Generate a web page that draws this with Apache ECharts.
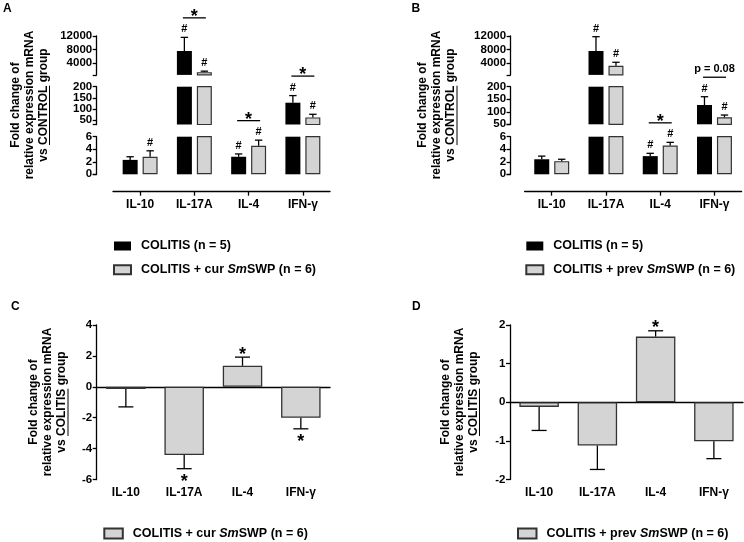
<!DOCTYPE html>
<html><head><meta charset="utf-8">
<script src="https://cdn.jsdelivr.net/npm/echarts@6.0.0/dist/echarts.min.js"></script>
<style>html,body{margin:0;padding:0;background:#fff}#c{width:744px;height:542px}</style>
</head><body><div id="c"></div>
<script>
// ---------- data ----------
const categories = ['IL-10', 'IL-17A', 'IL-4', 'IFN-γ'];
const nColitis = 'COLITIS (n = 5)';
const nCur = 'COLITIS + cur SmSWP (n = 6)';
const nPrev = 'COLITIS + prev SmSWP (n = 6)';

// Panel A (fold change vs CONTROL)
const aColitis = [2.3, 7600, 2.8, 128];
const aColitisErr = [2.8, 11600, 3.25, 160];
const aCur = [2.8, 1400, 4.55, 62];
const aCurErr = [3.75, 1700, 5.45, 76];
const aHashColitis = ['', '#', '#', '#'];
const aHashCur = ['#', '#', '#', '#'];
const aPair = ['', '*', '*', '*'];

// Panel B (fold change vs CONTROL)
const bColitis = [2.4, 7600, 2.9, 127];
const bColitisErr = [2.9, 11800, 3.35, 160];
const bPrev = [2.1, 3300, 4.6, 78];
const bPrevErr = [2.4, 4300, 5.1, 87];
const bHashColitis = ['', '#', '#', '#'];
const bHashPrev = ['', '#', '#', '#'];
const bPair = ['', '', '*', 'p = 0.08'];

// Panel C (fold change vs COLITIS)
const cCur = [-0.15, -4.42, 1.36, -2.0];
const cCurErr = [-1.3, -5.3, 1.92, -2.72];
const cStar = ['', '*', '*', '*'];

// Panel D (fold change vs COLITIS)
const dPrev = [-0.12, -1.12, 1.7, -1.01];
const dPrevErr = [-0.73, -1.74, 1.85, -1.46];
const dStar = ['', '', '*', ''];

// broken axis segments (top, middle, bottom) and tick labels
const aRanges = [[600, 12000], [30, 200], [0, 6]];
const bRanges = [[600, 12000], [50, 200], [0, 6]];
const segTicks = [[12000, 8000, 4000], [200, 150, 100, 50], [6, 4, 2, 0]];
const cTicks = [4, 2, 0, -2, -4, -6];
const dTicks = [2, 1, 0, -1, -2];

// ---------- styling ----------
const FONT = '"Liberation Sans", Arial, Helvetica, sans-serif';
const GRAY = '#d4d4d4';
const EDGE = '#333333';
const LW = 1.3;

const grids = [], xAxes = [], yAxes = [], series = [];

function seg(x1, y1, x2, y2) {
  return { type: 'line', shape: { x1, y1, x2, y2 }, style: { stroke: '#000', lineWidth: LW } };
}
function txt(t, x, y, size) {
  return { type: 'text', x, y, style: { text: t, font: 'bold ' + size + 'px ' + FONT, fill: '#000', align: 'center', verticalAlign: 'middle' } };
}
function star(x, yc) {
  return { type: 'text', x, y: yc + 5, style: { text: '*', font: 'bold 18px ' + FONT, fill: '#000', align: 'center', verticalAlign: 'middle' } };
}

function yAxisBase(g, min, max, offset) {
  return {
    type: 'value', gridIndex: g, min, max, offset, position: 'left',
    axisLine: { show: true, onZero: false, lineStyle: { color: '#000', width: LW } },
    axisTick: { show: true, length: 4, lineStyle: { color: '#000', width: LW } },
    axisLabel: { show: true, margin: 4.5, color: '#000', fontFamily: FONT, fontWeight: 'bold', fontSize: 11.5,
      showMinLabel: true, showMaxLabel: true, hideOverlap: false, formatter: v => String(v) },
    splitLine: { show: false }
  };
}
const xLabel = { show: true, margin: 7, color: '#000', fontFamily: FONT, fontWeight: 'bold', fontSize: 12, interval: 0, hideOverlap: false };

function broken(cfg) {
  cfg.ranges.forEach((r, s) => {
    const g = grids.length;
    const xi = xAxes.length, yi = yAxes.length;
    const isBottom = s === cfg.ranges.length - 1;
    const isTop = s === 0;
    grids.push({ left: cfg.left, width: cfg.width, top: cfg.tops[s], height: cfg.heights[s], containLabel: false, outerBoundsMode: 'none' });
    xAxes.push({
      type: 'category', gridIndex: g, data: categories, show: isBottom, position: 'bottom', offset: isBottom ? cfg.xOffset : 0,
      axisLine: { show: true, onZero: false, lineStyle: { color: '#000', width: LW } },
      axisTick: { show: true, alignWithLabel: true, length: 4, lineStyle: { color: '#000', width: LW } },
      axisLabel: xLabel, splitLine: { show: false }
    });
    // main axis: line, ticks and every other label; companion axis: remaining labels (tight spacing)
    const ya = yAxisBase(g, r[0], r[1], cfg.axisOffset);
    ya.axisTick.customValues = segTicks[s].concat([r[0]]);
    ya.axisLabel.customValues = segTicks[s].filter((v, k) => k % 2 === 0);
    yAxes.push(ya);
    const ya2 = yAxisBase(g, r[0], r[1], cfg.axisOffset);
    ya2.axisLine.show = false;
    ya2.axisTick.show = false;
    ya2.axisLabel.customValues = segTicks[s].filter((v, k) => k % 2 === 1);
    yAxes.push(ya2);
    const clipData = arr => arr.map(v => (v > r[0] ? v : '-'));
    series.push({ type: 'bar', name: cfg.n1, xAxisIndex: xi, yAxisIndex: yi, data: clipData(cfg.d1), barWidth: 15, barGap: '33%', clip: true, silent: true, itemStyle: { color: '#000' } });
    series.push({ type: 'bar', name: cfg.n2, xAxisIndex: xi, yAxisIndex: yi, data: clipData(cfg.d2), barWidth: 15, barGap: '33%', clip: true, silent: true, itemStyle: { color: GRAY, borderColor: EDGE, borderWidth: 1.2 } });
    const inSeg = v => v > r[0] && (isTop || v <= r[1]);
    series.push({
      type: 'custom', xAxisIndex: xi, yAxisIndex: yi, z: 5, silent: true,
      data: categories.map((c, i) => [i, cfg.d1[i], cfg.e1[i], cfg.d2[i], cfg.e2[i]]),
      renderItem: function (params, api) {
        const i = api.value(0);
        const cx = api.coord([i, r[0]])[0];
        const yOf = v => api.coord([i, v])[1];
        const ch = [];
        const bars = [[api.value(1), api.value(2), -10, cfg.h1[i]], [api.value(3), api.value(4), 10, cfg.h2[i]]];
        bars.forEach(b => {
          const v = b[0], e = b[1], x = cx + b[2], h = b[3];
          if (e > r[0] && v < r[1]) ch.push(seg(x, yOf(Math.max(v, r[0])), x, yOf(Math.min(e, r[1]))));
          if (inSeg(e)) {
            const ye = yOf(e);
            ch.push(seg(x - 3.7, ye, x + 3.7, ye));
            if (h) ch.push(txt(h, x, ye - 8, 11));
          }
        });
        const p = cfg.pair[i];
        const m = Math.max(bars[0][1], bars[1][1]);
        if (p && inSeg(m)) {
          const yl = yOf(m) - 19.5;
          ch.push(seg(cx - 11.5, yl, cx + 11.5, yl));
          ch.push(p === '*' ? star(cx, yl - 6) : txt(p, cx, yl - 8.4, 11));
        }
        return { type: 'group', children: ch };
      }
    });
  });
}

function simple(cfg) {
  const g = grids.length;
  const xi = xAxes.length, yi = yAxes.length;
  grids.push({ left: cfg.left, width: cfg.width, top: cfg.top, height: cfg.height, containLabel: false, outerBoundsMode: 'none' });
  xAxes.push({
    type: 'category', gridIndex: g, data: categories, position: 'bottom',
    axisLine: { show: true, onZero: true, lineStyle: { color: '#000', width: LW } },
    axisTick: { show: false }, axisLabel: { show: false }, splitLine: { show: false }
  });
  xAxes.push({
    type: 'category', gridIndex: g, data: categories, position: 'bottom',
    axisLine: { show: false, onZero: false }, axisTick: { show: false }, axisLabel: xLabel, splitLine: { show: false }
  });
  const ya = yAxisBase(g, cfg.ticks[cfg.ticks.length - 1], cfg.ticks[0], cfg.axisOffset);
  ya.interval = cfg.ticks[0] - cfg.ticks[1];
  yAxes.push(ya);
  series.push({ type: 'bar', name: cfg.name, xAxisIndex: xi, yAxisIndex: yi, data: cfg.d, barWidth: 39.5, silent: true, itemStyle: { color: GRAY, borderColor: EDGE, borderWidth: 1.3 } });
  series.push({
    type: 'custom', xAxisIndex: xi, yAxisIndex: yi, z: 5, silent: true,
    data: categories.map((c, i) => [i, cfg.d[i], cfg.e[i]]),
    renderItem: function (params, api) {
      const i = api.value(0), v = api.value(1), e = api.value(2);
      const cx = api.coord([i, 0])[0];
      const yv = api.coord([i, v])[1], ye = api.coord([i, e])[1];
      const ch = [seg(cx, yv, cx, ye), seg(cx - 7.5, ye, cx + 7.5, ye)];
      if (cfg.star[i]) ch.push(star(cx, e > 0 ? ye - 7.5 : ye + 8.5));
      return { type: 'group', children: ch };
    }
  });
}

const segTops = [36, 86.7, 136.7];
broken({ left: 113, width: 217, axisOffset: 16.3, xOffset: 17.4, tops: segTops, heights: [38.9, 37.8, 37.6], ranges: aRanges,
  d1: aColitis, e1: aColitisErr, d2: aCur, e2: aCurErr, h1: aHashColitis, h2: aHashCur, pair: aPair, n1: nColitis, n2: nCur });
broken({ left: 524.6, width: 217, axisOffset: 14, xOffset: 17.4, tops: segTops, heights: [38.9, 37.6, 37.6], ranges: bRanges,
  d1: bColitis, e1: bColitisErr, d2: bPrev, e2: bPrevErr, h1: bHashColitis, h2: bHashPrev, pair: bPair, n1: nColitis, n2: nPrev });
simple({ left: 96.7, width: 233.3, top: 325, height: 154.5, axisOffset: 0, ticks: cTicks, d: cCur, e: cCurErr, star: cStar, name: nCur });
simple({ left: 510, width: 233, top: 325, height: 154.5, axisOffset: 0, ticks: dTicks, d: dPrev, e: dPrevErr, star: dStar, name: nPrev });

// ---------- titles ----------
const mctx = document.createElement('canvas').getContext('2d');
function tw(t, font) { mctx.font = font; return mctx.measureText(t).width; }
function yTitle(cx, cy, word) {
  const font = 'bold 12px ' + FONT;
  const sp = 14;
  const lines = ['Fold change of', 'relative expression mRNA', 'vs ' + word + ' group'];
  const ch = lines.map((t, k) => ({ type: 'text', x: 0, y: (k - 1) * sp, style: { text: t, font, fill: '#000', align: 'center', verticalAlign: 'middle' } }));
  const w3 = tw(lines[2], font), wPre = tw('vs ', font), wWord = tw(word, font);
  const x0 = -w3 / 2 + wPre;
  const uy = sp + 6;
  ch.push({ type: 'line', shape: { x1: x0, y1: uy, x2: x0 + wWord, y2: uy }, style: { stroke: '#000', lineWidth: 1 } });
  return { type: 'group', x: cx, y: cy, rotation: Math.PI / 2, children: ch };
}
function letter(t, x, y) {
  return { type: 'text', x, y, style: { text: t, font: 'bold 12px ' + FONT, fill: '#000', align: 'left', verticalAlign: 'top' } };
}

const legendText = {
  fontFamily: FONT, fontWeight: 'bold', fontSize: 12.5, color: '#000', padding: [0, 0, 0, 5],
  rich: { i: { fontFamily: FONT, fontWeight: 'bold', fontStyle: 'italic', fontSize: 12.5, color: '#000' } }
};
const legFmt = name => name.replace('Sm', '{i|Sm}');
function legend(data, left, top, w, h) {
  return { data, left, top, orient: 'vertical', icon: 'rect', itemWidth: w, itemHeight: h, itemGap: 10.8, padding: 0,
    selectedMode: false, textStyle: legendText, formatter: legFmt };
}

const option = {
  animation: false,
  backgroundColor: '#fff',
  grid: grids, xAxis: xAxes, yAxis: yAxes, series,
  legend: [
    legend([nColitis, nCur], 113, 239.5, 17, 9),
    legend([nColitis, nPrev], 525.3, 239.5, 17, 9),
    legend([nCur], 103.3, 527, 18.5, 10),
    legend([nPrev], 517, 527, 18.5, 10)
  ],
  graphic: { elements: [
    letter('A', 3, 3), letter('B', 411.5, 3), letter('C', 11, 301), letter('D', 412, 301),
    yTitle(29.5, 105, 'CONTROL'), yTitle(437, 105, 'CONTROL'),
    yTitle(48, 402, 'COLITIS'), yTitle(459.5, 402, 'COLITIS')
  ] }
};
const chart = echarts.init(document.getElementById('c'));
chart.setOption(option);
</script>
</body></html>
